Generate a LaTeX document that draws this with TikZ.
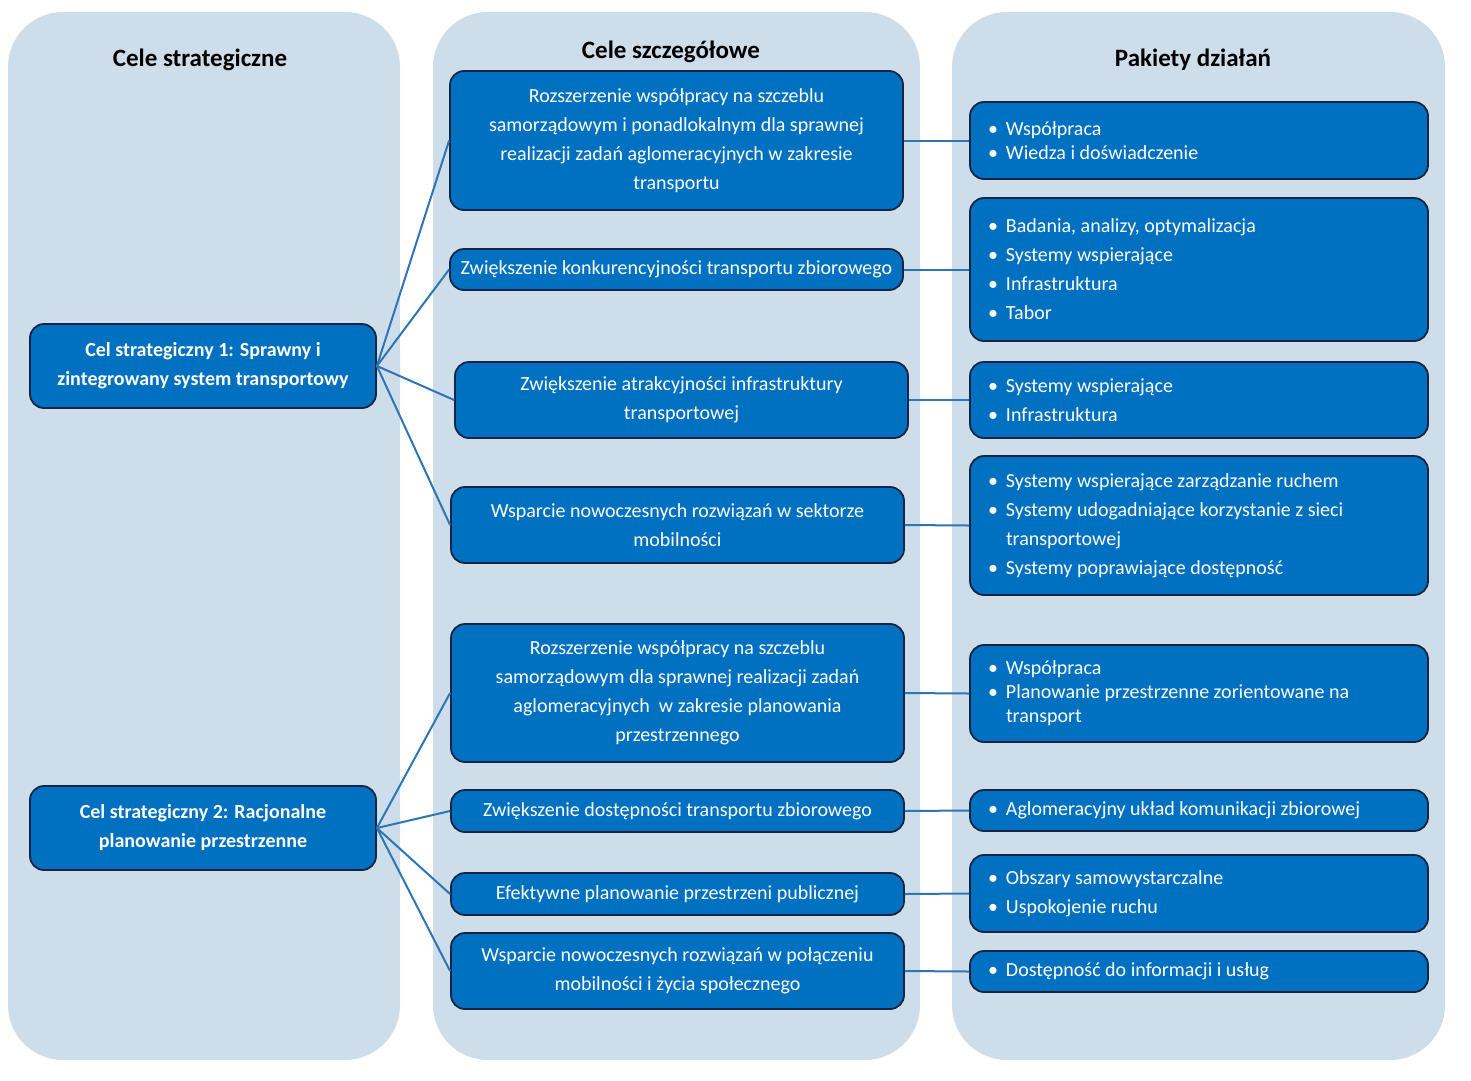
\documentclass[tikz,border=0pt]{standalone}
\usepackage{fontspec}
\setmainfont{Carlito}
\definecolor{panelc}{RGB}{206,221,234}
\definecolor{boxf}{RGB}{0,112,192}
\definecolor{boxd}{RGB}{20,38,68}
\definecolor{linkc}{RGB}{46,117,182}
\newcommand\bl{\makebox[18pt][l]{\textbullet}}
\newcommand\ind{\hspace*{18pt}}
\tikzset{
  panel/.style={fill=panelc, draw=none, rounded corners=55pt},
  ttl/.style={font=\fontsize{25}{29}\selectfont\bfseries, text=black, inner sep=0pt},
  box/.style={draw=boxd, line width=1.8pt, fill=boxf, rounded corners=14pt, text=white,
    font=\fontsize{20}{29}\selectfont, align=center, inner sep=0pt},
  sbox/.style={box, font=\fontsize{20}{29}\selectfont\bfseries, minimum width=346pt, minimum height=84pt},
  mbox/.style={box, minimum width=453pt},
  lst/.style={box, align=flush left, text width=422pt, inner xsep=18pt, minimum height=#1},
  link/.style={draw=linkc, line width=2pt}
}
\begin{document}
\begin{tikzpicture}[x=1pt,y=-1pt]
\useasboundingbox (0,0) rectangle (1471,1080);
% panels
\fill[panel] (8,12) rectangle (400,1060);
\fill[panel] (433,12) rectangle (920,1060);
\fill[panel] (952,12) rectangle (1445,1060);
% titles
\node[ttl] (t1) at (200,60) {Cele strategiczne};
\node[ttl] (t2) at (671,52) {Cele szczegółowe};
\node[ttl] (t3) at (1193,60) {Pakiety działań};
% strategic goals
\node[sbox] (s1) at (203,366) {Cel strategiczny 1: Sprawny i\\zintegrowany system transportowy};
\node[sbox] (s2) at (203,828) {Cel strategiczny 2: Racjonalne\\planowanie przestrzenne};
% specific goals
\node[mbox, minimum height=139pt] (m1) at (676.5,140.5) {Rozszerzenie współpracy na szczeblu\\samorządowym i ponadlokalnym dla sprawnej\\realizacji zadań aglomeracyjnych w zakresie\\transportu};
\node[mbox, minimum height=41pt] (m2) at (676.5,269.5) {Zwiększenie konkurencyjności transportu zbiorowego};
\node[mbox, minimum height=76pt] (m3) at (681.5,400) {Zwiększenie atrakcyjności infrastruktury\\transportowej};
\node[mbox, minimum height=76pt] (m4) at (677.5,525) {Wsparcie nowoczesnych rozwiązań w sektorze\\mobilności};
\node[mbox, minimum height=138pt] (m5) at (677.5,693) {Rozszerzenie współpracy na szczeblu\\samorządowym dla sprawnej realizacji zadań\\aglomeracyjnych\ \ w zakresie planowania\\przestrzennego};
\node[mbox, minimum height=42pt] (m6) at (677.5,811) {Zwiększenie dostępności transportu zbiorowego};
\node[mbox, minimum height=42pt] (m7) at (677.5,894) {Efektywne planowanie przestrzeni publicznej};
\node[mbox, minimum height=76pt] (m8) at (677.5,971) {Wsparcie nowoczesnych rozwiązań w połączeniu\\mobilności i życia społecznego};
% action packages
\node[lst=77pt, font=\fontsize{20}{24}\selectfont] (r1) at (1199,140.5) {\bl Współpraca\\\bl Wiedza i doświadczenie};
\node[lst=143pt] (r2) at (1199,269.5) {\bl Badania, analizy, optymalizacja\\\bl Systemy wspierające\\\bl Infrastruktura\\\bl Tabor};
\node[lst=76pt] (r3) at (1199,400) {\bl Systemy wspierające\\\bl Infrastruktura};
\node[lst=139pt] (r4) at (1199,525.5) {\bl Systemy wspierające zarządzanie ruchem\\\bl Systemy udogadniające korzystanie z sieci\\\ind transportowej\\\bl Systemy poprawiające dostępność};
\node[lst=97pt, font=\fontsize{20}{24}\selectfont] (r5) at (1199,693.5) {\bl Współpraca\\\bl Planowanie przestrzenne zorientowane na\\\ind transport};
\node[lst=41pt] (r6) at (1199,810.5) {\bl Aglomeracyjny układ komunikacji zbiorowej};
\node[lst=77pt] (r7) at (1199,893.5) {\bl Obszary samowystarczalne\\\bl Uspokojenie ruchu};
\node[lst=41pt] (r8) at (1199,971.5) {\bl Dostępność do informacji i usług};
% connectors
\foreach \m in {m1,m2,m3,m4} \draw[link] (s1.east) -- (\m.west);
\foreach \m in {m5,m6,m7,m8} \draw[link] (s2.east) -- (\m.west);
\foreach \i in {1,...,8} \draw[link] (m\i.east) -- (r\i.west);
\end{tikzpicture}
\end{document}
